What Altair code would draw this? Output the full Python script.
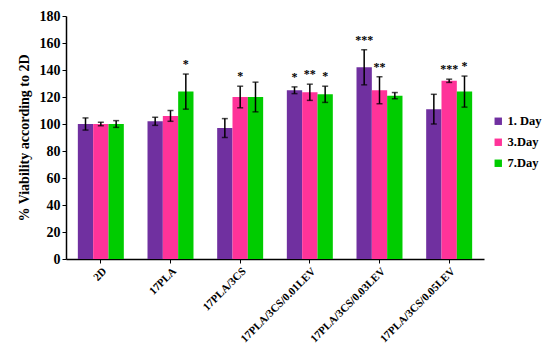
import altair as alt
import pandas as pd

categories = ["2D", "17PLA", "17PLA/3CS", "17PLA/3CS/0.01LEV", "17PLA/3CS/0.03LEV", "17PLA/3CS/0.05LEV"]
series = ["1. Day", "3.Day", "7.Day"]
day1 = [100, 102, 97, 125, 142, 111]
day3 = [100, 106, 120, 123.5, 125, 132]
day7 = [100, 124, 120, 122, 121, 124]
err1 = [4.5, 3, 7, 2.5, 13, 11]
err3 = [1.3, 4, 8, 6, 10, 1.2]
err7 = [2.5, 13, 11, 6, 2.3, 11.5]
stars1 = ["", "", "", "*", "***", ""]
stars3 = ["", "", "*", "**", "**", "***"]
stars7 = ["", "*", "", "*", "", "*"]
y_ticks = [0, 20, 40, 60, 80, 100, 120, 140, 160, 180]
colors = ["#7030A0", "#FF3399", "#00CC00"]

rows = []
for s, vals, errs, stars in zip(series, [day1, day3, day7], [err1, err3, err7], [stars1, stars3, stars7]):
    for c, v, e, st in zip(categories, vals, errs, stars):
        rows.append({"cat": c, "day": s, "v": v, "lo": v - e, "hi": v + e, "star": st})
df = pd.DataFrame(rows)

font = "Times New Roman, Liberation Serif, serif"
xaxis = alt.Axis(labelAngle=-45, labelAlign="right", labelBaseline="top",
                 labelFont=font, labelFontWeight="bold", labelFontSize=11,
                 labelColor="black", domainColor="black", domainWidth=1.5,
                 tickColor="black", tickSize=4, labelPadding=2, labelOverlap=False)
xscale = alt.Scale(paddingInner=0.34, paddingOuter=0.17)
yaxis = alt.Axis(values=y_ticks, grid=False, labelOverlap=False,
                 labelFont=font, labelFontWeight="bold", labelFontSize=14,
                 labelColor="black", titleFont=font, titleFontWeight="bold",
                 titleFontSize=14, titleColor="black", domainColor="black",
                 domainWidth=1.5, tickColor="black", tickSize=4, titlePadding=8)
yscale = alt.Scale(domain=[0, 180], nice=False)
ytitle = "% Viability according to 2D"


def X():
    return alt.X("cat:N", sort=categories, title=None, scale=xscale, axis=xaxis)


def Y(field):
    return alt.Y(field, scale=yscale, title=ytitle, axis=yaxis)


xoff = alt.XOffset("day:N", sort=series)

bars = alt.Chart(df).mark_bar().encode(
    x=X(), xOffset=xoff, y=Y("v:Q"),
    color=alt.Color("day:N", sort=series, scale=alt.Scale(domain=series, range=colors),
                    legend=alt.Legend(title=None, orient="none", legendX=426, legendY=99,
                                      symbolType="square", symbolSize=55, symbolStrokeWidth=0,
                                      labelFont=font, labelFontWeight="bold", labelFontSize=12.5,
                                      labelColor="black", rowPadding=8, labelOffset=3)),
)

rule = alt.Chart(df).mark_rule(color="black", strokeWidth=1.5).encode(
    x=X(), xOffset=xoff, y=Y("lo:Q"), y2="hi:Q")
cap_lo = alt.Chart(df).mark_tick(color="black", thickness=1.5, size=6, orient="horizontal").encode(
    x=X(), xOffset=xoff, y=Y("lo:Q"))
cap_hi = alt.Chart(df).mark_tick(color="black", thickness=1.5, size=6, orient="horizontal").encode(
    x=X(), xOffset=xoff, y=Y("hi:Q"))
text = alt.Chart(df).mark_text(font=font, fontSize=12, fontWeight="bold", color="black", dy=-3, baseline="bottom").encode(
    x=X(), xOffset=xoff, y=Y("hi:Q"), text="star:N")

chart = alt.layer(bars, rule, cap_lo, cap_hi, text).properties(
    width=418, height=243,
    autosize=alt.AutoSizeParams(type="none"),
    padding={"left": 58, "top": 8, "right": 58, "bottom": 94},
).configure_view(stroke=None)

chart.save("out.html", embed_options={"renderer": "svg", "actions": False})
